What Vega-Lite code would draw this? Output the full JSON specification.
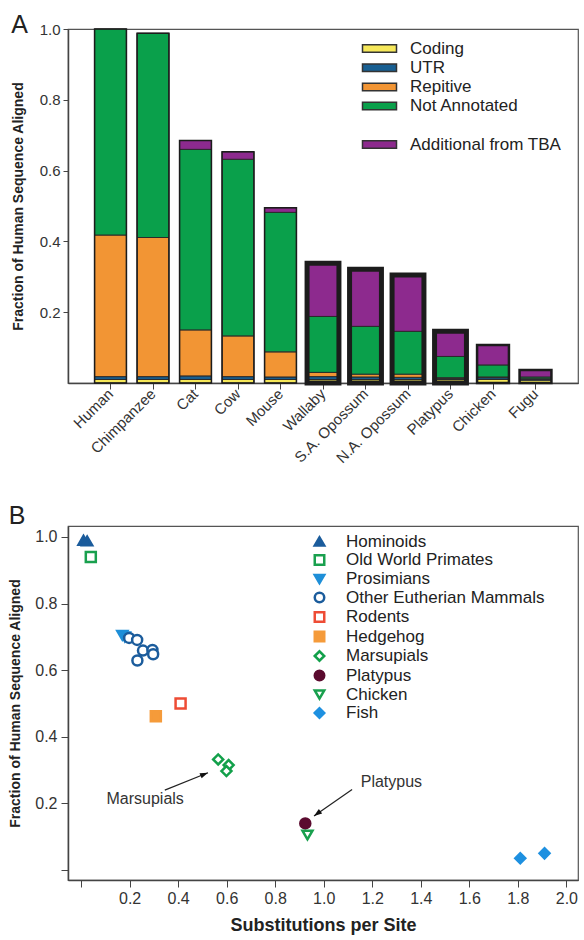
{
  "$schema": "https://vega.github.io/schema/vega-lite/v6.json",
  "padding": {"left": 8, "top": 12, "right": 0, "bottom": 0},
  "background": "white",
  "spacing": 36,
  "config": {
    "font": "Liberation Sans",
    "view": {"stroke": "#555", "strokeWidth": 1.2},
    "axis": {"labelColor": "#333", "domainColor": "#444", "tickColor": "#444", "titleColor": "#222", "grid": false, "labelFont": "Liberation Sans", "titleFont": "Liberation Sans"},
    "legend": {"labelFont": "Liberation Sans", "labelColor": "#222", "padding": 0, "labelLimit": 400}
  },
  "vconcat": [
    {
      "title": {"text": "A", "anchor": "start", "frame": "bounds", "fontSize": 25, "fontWeight": "normal", "color": "#222", "offset": -16},
      "width": 510,
      "height": 354,
      "data": {"values": [
        {"species": "Human", "part": "Coding", "rank": 1, "value": 0.01},
        {"species": "Human", "part": "UTR", "rank": 2, "value": 0.008},
        {"species": "Human", "part": "Repitive", "rank": 3, "value": 0.4},
        {"species": "Human", "part": "Not Annotated", "rank": 4, "value": 0.582},
        {"species": "Chimpanzee", "part": "Coding", "rank": 1, "value": 0.01},
        {"species": "Chimpanzee", "part": "UTR", "rank": 2, "value": 0.008},
        {"species": "Chimpanzee", "part": "Repitive", "rank": 3, "value": 0.393},
        {"species": "Chimpanzee", "part": "Not Annotated", "rank": 4, "value": 0.577},
        {"species": "Cat", "part": "Coding", "rank": 1, "value": 0.01},
        {"species": "Cat", "part": "UTR", "rank": 2, "value": 0.01},
        {"species": "Cat", "part": "Repitive", "rank": 3, "value": 0.13},
        {"species": "Cat", "part": "Not Annotated", "rank": 4, "value": 0.51},
        {"species": "Cat", "part": "Additional from TBA", "rank": 5, "value": 0.025},
        {"species": "Cow", "part": "Coding", "rank": 1, "value": 0.01},
        {"species": "Cow", "part": "UTR", "rank": 2, "value": 0.008},
        {"species": "Cow", "part": "Repitive", "rank": 3, "value": 0.115},
        {"species": "Cow", "part": "Not Annotated", "rank": 4, "value": 0.499},
        {"species": "Cow", "part": "Additional from TBA", "rank": 5, "value": 0.021},
        {"species": "Mouse", "part": "Coding", "rank": 1, "value": 0.01},
        {"species": "Mouse", "part": "UTR", "rank": 2, "value": 0.007},
        {"species": "Mouse", "part": "Repitive", "rank": 3, "value": 0.071},
        {"species": "Mouse", "part": "Not Annotated", "rank": 4, "value": 0.394},
        {"species": "Mouse", "part": "Additional from TBA", "rank": 5, "value": 0.013},
        {"species": "Wallaby", "part": "Coding", "rank": 1, "value": 0.01},
        {"species": "Wallaby", "part": "UTR", "rank": 2, "value": 0.008},
        {"species": "Wallaby", "part": "Repitive", "rank": 3, "value": 0.012},
        {"species": "Wallaby", "part": "Not Annotated", "rank": 4, "value": 0.158},
        {"species": "Wallaby", "part": "Additional from TBA", "rank": 5, "value": 0.15},
        {"species": "S.A. Opossum", "part": "Coding", "rank": 1, "value": 0.01},
        {"species": "S.A. Opossum", "part": "UTR", "rank": 2, "value": 0.007},
        {"species": "S.A. Opossum", "part": "Repitive", "rank": 3, "value": 0.008},
        {"species": "S.A. Opossum", "part": "Not Annotated", "rank": 4, "value": 0.135},
        {"species": "S.A. Opossum", "part": "Additional from TBA", "rank": 5, "value": 0.161},
        {"species": "N.A. Opossum", "part": "Coding", "rank": 1, "value": 0.01},
        {"species": "N.A. Opossum", "part": "UTR", "rank": 2, "value": 0.006},
        {"species": "N.A. Opossum", "part": "Repitive", "rank": 3, "value": 0.009},
        {"species": "N.A. Opossum", "part": "Not Annotated", "rank": 4, "value": 0.121},
        {"species": "N.A. Opossum", "part": "Additional from TBA", "rank": 5, "value": 0.159},
        {"species": "Platypus", "part": "Coding", "rank": 1, "value": 0.01},
        {"species": "Platypus", "part": "UTR", "rank": 2, "value": 0.003},
        {"species": "Platypus", "part": "Repitive", "rank": 3, "value": 0.002},
        {"species": "Platypus", "part": "Not Annotated", "rank": 4, "value": 0.06},
        {"species": "Platypus", "part": "Additional from TBA", "rank": 5, "value": 0.071},
        {"species": "Chicken", "part": "Coding", "rank": 1, "value": 0.01},
        {"species": "Chicken", "part": "UTR", "rank": 2, "value": 0.005},
        {"species": "Chicken", "part": "Repitive", "rank": 3, "value": 0.002},
        {"species": "Chicken", "part": "Not Annotated", "rank": 4, "value": 0.034},
        {"species": "Chicken", "part": "Additional from TBA", "rank": 5, "value": 0.056},
        {"species": "Fugu", "part": "Coding", "rank": 1, "value": 0.008},
        {"species": "Fugu", "part": "UTR", "rank": 2, "value": 0.003},
        {"species": "Fugu", "part": "Repitive", "rank": 3, "value": 0.001},
        {"species": "Fugu", "part": "Not Annotated", "rank": 4, "value": 0.005},
        {"species": "Fugu", "part": "Additional from TBA", "rank": 5, "value": 0.02}
      ]},
      "layer": [
        {
          "mark": {"type": "bar", "stroke": "#2a2a2a", "strokeWidth": 1},
          "encoding": {
            "x": {"field": "species", "type": "nominal",
              "sort": ["Human", "Chimpanzee", "Cat", "Cow", "Mouse", "Wallaby", "S.A. Opossum", "N.A. Opossum", "Platypus", "Chicken", "Fugu"],
              "scale": {"paddingInner": 0.25, "paddingOuter": 0.625},
              "axis": {"title": null, "labelAngle": -45, "labelAlign": "right", "labelBaseline": "middle", "labelFontSize": 15, "tickSize": 6, "labelPadding": 2, "domainWidth": 1.5}},
            "y": {"field": "value", "type": "quantitative", "stack": "zero",
              "scale": {"domain": [0, 1], "nice": false},
              "title": "Fraction of Human Sequence Aligned",
              "axis": {"values": [0.2, 0.4, 0.6, 0.8, 1.0], "format": ".1f", "labelFontSize": 15, "tickSize": 5, "labelPadding": 3, "titleFontSize": 14, "titleFontWeight": "bold", "titlePadding": 14, "domainWidth": 1.5}},
            "order": {"field": "rank", "type": "quantitative", "sort": "ascending"},
            "color": {"field": "part", "type": "nominal",
              "scale": {"domain": ["Coding", "UTR", "Repitive", "Not Annotated", " ", "Additional from TBA"],
                "range": ["#f6e85a", "#185f92", "#f29534", "#0aa04b", "transparent", "#8d2a8e"]},
              "legend": {"title": null, "orient": "none", "legendX": 302, "legendY": 10,
                "symbolType": "M-2,-0.44H2V0.44H-2Z", "symbolSize": 289, "symbolStrokeColor": "#333", "symbolStrokeWidth": 1.5,
                "labelFontSize": 17, "labelOffset": 21, "rowPadding": 1.2,
                "encode": {"symbols": {"update": {"stroke": {"signal": "datum.value === ' ' ? 'transparent' : '#333'"}}}}}}
          }
        },
        {
          "mark": {"type": "bar", "fillOpacity": 0, "stroke": "#1c1c1c"},
          "encoding": {
            "x": {"field": "species", "type": "nominal",
              "sort": ["Human", "Chimpanzee", "Cat", "Cow", "Mouse", "Wallaby", "S.A. Opossum", "N.A. Opossum", "Platypus", "Chicken", "Fugu"]},
            "y": {"field": "value", "type": "quantitative", "aggregate": "sum", "stack": null, "title": "Fraction of Human Sequence Aligned"},
            "strokeWidth": {"condition": [
              {"test": "indexof(['Wallaby','S.A. Opossum','N.A. Opossum','Platypus'], datum.species) >= 0", "value": 5},
              {"test": "indexof(['Chicken','Fugu'], datum.species) >= 0", "value": 2.5}
            ], "value": 1.5}
          }
        }
      ]
    },
    {
      "title": {"text": "B", "anchor": "start", "frame": "bounds", "fontSize": 25, "fontWeight": "normal", "color": "#222", "offset": -3},
      "width": 510,
      "height": 354,
      "layer": [
        {
          "data": {"values": [
            {"group": "Hominoids", "x": 0.01, "y": 0.99},
            {"group": "Hominoids", "x": 0.025, "y": 0.988},
            {"group": "Old World Primates", "x": 0.04, "y": 0.94},
            {"group": "Prosimians", "x": 0.17, "y": 0.705},
            {"group": "Prosimians", "x": 0.18, "y": 0.7},
            {"group": "Other Eutherian Mammals", "x": 0.198, "y": 0.697},
            {"group": "Other Eutherian Mammals", "x": 0.231, "y": 0.691},
            {"group": "Other Eutherian Mammals", "x": 0.255, "y": 0.659},
            {"group": "Other Eutherian Mammals", "x": 0.232, "y": 0.629},
            {"group": "Other Eutherian Mammals", "x": 0.294, "y": 0.661},
            {"group": "Other Eutherian Mammals", "x": 0.297, "y": 0.648},
            {"group": "Rodents", "x": 0.41, "y": 0.5},
            {"group": "Hedgehog", "x": 0.308, "y": 0.462},
            {"group": "Marsupials", "x": 0.565, "y": 0.332},
            {"group": "Marsupials", "x": 0.608, "y": 0.315},
            {"group": "Marsupials", "x": 0.599, "y": 0.297},
            {"group": "Platypus", "x": 0.924, "y": 0.14},
            {"group": "Chicken", "x": 0.933, "y": 0.105},
            {"group": "Fish", "x": 1.81, "y": 0.035},
            {"group": "Fish", "x": 1.91, "y": 0.05}
          ]},
          "mark": {"type": "point", "filled": true, "strokeWidth": 2.5, "size": 100, "opacity": 1},
          "encoding": {
            "x": {"field": "x", "type": "quantitative",
              "scale": {"domain": [-0.054, 2.048], "nice": false, "zero": false},
              "title": "Substitutions per Site",
              "axis": {"values": [0, 0.1, 0.2, 0.3, 0.4, 0.5, 0.6, 0.7, 0.8, 0.9, 1.0, 1.1, 1.2, 1.3, 1.4, 1.5, 1.6, 1.7, 1.8, 1.9, 2.0],
                "labelExpr": "datum.value > 0.05 && round(datum.value * 10) % 2 == 0 ? format(datum.value, '.1f') : ''",
                "tickSize": {"condition": {"test": "round(datum.value * 10) % 2 == 0", "value": 7}, "value": 4},
                "labelFontSize": 16, "labelPadding": 3, "titleFontSize": 18, "titleFontWeight": "bold", "titlePadding": 10, "domainWidth": 1.5, "labelFlush": false}},
            "y": {"field": "y", "type": "quantitative",
              "scale": {"domain": [-0.03, 1.033], "nice": false, "zero": false},
              "title": "Fraction of Human Sequence Aligned",
              "axis": {"values": [0, 0.1, 0.2, 0.3, 0.4, 0.5, 0.6, 0.7, 0.8, 0.9, 1.0],
                "labelExpr": "datum.value > 0.05 && round(datum.value * 10) % 2 == 0 ? format(datum.value, '.1f') : ''",
                "tickSize": {"condition": {"test": "round(datum.value * 10) % 2 == 0", "value": 7}, "value": 4},
                "labelFontSize": 16, "labelPadding": 4, "titleFontSize": 14, "titleFontWeight": "bold", "titlePadding": 12, "domainWidth": 1.5, "labelFlush": false}},
            "shape": {"field": "group", "type": "nominal",
              "scale": {"domain": ["Hominoids", "Old World Primates", "Prosimians", "Other Eutherian Mammals", "Rodents", "Hedgehog", "Marsupials", "Platypus", "Chicken", "Fish"],
                "range": ["triangle-up", "square", "triangle-down", "circle", "square", "square", "diamond", "circle", "triangle-down", "diamond"]},
              "legend": {"title": null, "orient": "none", "legendX": 243, "legendY": 504, "labelFontSize": 17, "labelOffset": 18, "rowPadding": -1.5, "symbolSize": 90, "symbolStrokeWidth": 2.5}},
            "stroke": {"field": "group", "type": "nominal",
              "scale": {"domain": ["Hominoids", "Old World Primates", "Prosimians", "Other Eutherian Mammals", "Rodents", "Hedgehog", "Marsupials", "Platypus", "Chicken", "Fish"],
                "range": ["#1b5c9c", "#19a04e", "#1e8fd8", "#1b5c9c", "#ee4c35", "#f59b3a", "#12a04a", "#5b0b2f", "#19a04e", "#1e90e0"]},
              "legend": {"title": null, "orient": "none", "legendX": 243, "legendY": 504, "labelFontSize": 17, "labelOffset": 18, "rowPadding": -1.5, "symbolSize": 90, "symbolStrokeWidth": 2.5}},
            "fill": {"field": "group", "type": "nominal",
              "scale": {"domain": ["Hominoids", "Old World Primates", "Prosimians", "Other Eutherian Mammals", "Rodents", "Hedgehog", "Marsupials", "Platypus", "Chicken", "Fish"],
                "range": ["#1b5c9c", "white", "#1e8fd8", "white", "white", "#f59b3a", "white", "#5b0b2f", "white", "#1e90e0"]},
              "legend": {"title": null, "orient": "none", "legendX": 243, "legendY": 504, "labelFontSize": 17, "labelOffset": 18, "rowPadding": -1.5, "symbolSize": 90, "symbolStrokeWidth": 2.5}}
          }
        },
        {
          "data": {"values": [
            {"x": 0.345, "y": 0.24, "x2": 0.523, "y2": 0.292},
            {"x": 1.117, "y": 0.242, "x2": 0.96, "y2": 0.162}
          ]},
          "mark": {"type": "rule", "color": "#222", "strokeWidth": 1.2},
          "encoding": {
            "x": {"field": "x", "type": "quantitative"},
            "y": {"field": "y", "type": "quantitative"},
            "x2": {"field": "x2"},
            "y2": {"field": "y2"}
          }
        },
        {
          "data": {"values": [{"x": 0.523, "y": 0.292}]},
          "mark": {"type": "point", "shape": "M0,0L0.7,2L-0.7,2Z", "filled": true, "color": "#111", "opacity": 1, "size": 64, "angle": 68},
          "encoding": {
            "x": {"field": "x", "type": "quantitative"},
            "y": {"field": "y", "type": "quantitative"}
          }
        },
        {
          "data": {"values": [{"x": 0.96, "y": 0.162}]},
          "mark": {"type": "point", "shape": "M0,0L0.7,2L-0.7,2Z", "filled": true, "color": "#111", "opacity": 1, "size": 64, "angle": 234},
          "encoding": {
            "x": {"field": "x", "type": "quantitative"},
            "y": {"field": "y", "type": "quantitative"}
          }
        },
        {
          "data": {"values": [
            {"x": 0.264, "y": 0.213, "label": "Marsupials"},
            {"x": 1.279, "y": 0.265, "label": "Platypus"}
          ]},
          "mark": {"type": "text", "fontSize": 16, "color": "#333", "align": "center", "baseline": "middle"},
          "encoding": {
            "x": {"field": "x", "type": "quantitative"},
            "y": {"field": "y", "type": "quantitative"},
            "text": {"field": "label"}
          }
        }
      ]
    }
  ]
}
